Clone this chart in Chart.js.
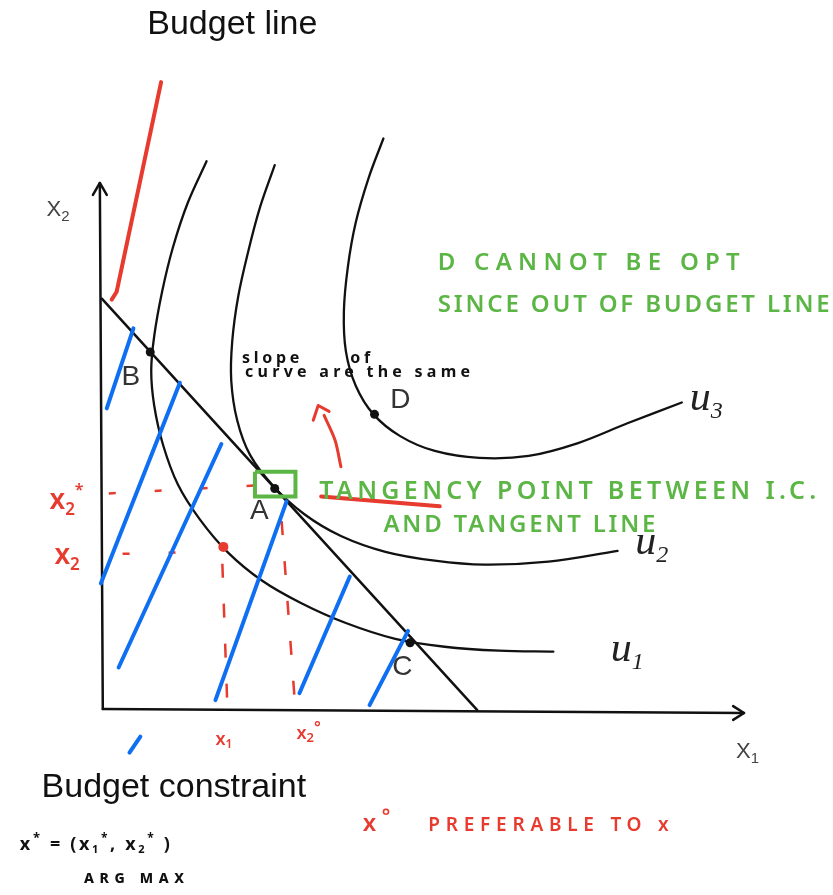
<!DOCTYPE html>
<html>
<head>
<meta charset="utf-8">
<script src="https://cdn.jsdelivr.net/npm/chart.js@4/dist/chart.umd.min.js"></script>
<style>
  html, body { margin: 0; padding: 0; background: #fff; overflow: hidden; }
  canvas { display: block; }
</style>
</head>
<body>
<canvas id="sketch" width="833" height="895"></canvas>
<script>
// units: origin at the axes corner, 1 unit ~ 10px
const xAxisLine = [[0, 0], [64.9, -0.4]];
const yAxisLine = [[0, 0], [-0.3, 53.2]];
const xArrow = [[63.8, 0.3], [64.9, -0.4], [63.8, -1.1]];
const yArrow = [[-1.0, 52.0], [-0.3, 53.2], [0.4, 52.0]];

const budgetLine = [[-0.1, 41.5], [37.9, -0.1]];
const budgetPointer = [[5.9, 63.4], [1.4, 42.2], [0.9, 41.4]];

const u1 = [[10.5, 55.4], [8.6, 51.2], [7.1, 46.7], [6.0, 42.2], [5.2, 37.7], [4.9, 34.2], [5.2, 30.7],
  [6.1, 26.7], [7.6, 22.7], [9.8, 19.2], [12.6, 15.9], [16.1, 13.0], [20.1, 10.7], [24.6, 8.7],
  [29.6, 7.1], [34.6, 6.3], [40.1, 5.9], [45.6, 5.8]];
const u2 = [[17.4, 55.0], [15.9, 50.7], [14.7, 46.2], [13.7, 41.7], [13.1, 37.2], [13.0, 33.2],
  [13.6, 29.2], [14.9, 25.7], [17.3, 22.5], [20.4, 19.7], [24.1, 17.5], [28.6, 15.9], [33.6, 15.0],
  [38.6, 14.6], [45.1, 14.9], [52.1, 16.0]];
const u3 = [[28.4, 57.7], [26.9, 53.7], [25.6, 49.2], [24.8, 44.7], [24.4, 40.2], [24.6, 36.2],
  [25.6, 32.7], [27.4, 29.8], [30.1, 27.6], [33.6, 26.1], [38.1, 25.4], [43.1, 25.6], [48.1, 26.9],
  [53.1, 28.9], [58.6, 31.0]];

const hatch = [
  [[0.4, 30.4], [3.1, 38.5]],
  [[-0.2, 12.7], [7.8, 33.0]],
  [[1.6, 4.2], [12.0, 26.8]],
  [[11.4, 0.9], [18.6, 21.0]],
  [[19.9, 1.6], [25.0, 13.4]],
  [[27.0, 0.4], [30.9, 7.9]],
  [[2.7, -4.4], [3.8, -2.8]]
];

const guideX2Star = [[0.6, 21.8], [15.3, 22.6]];
const guideX2 = [[2.0, 15.7], [10.6, 15.9]];
const guideX1 = [[12.1, 14.7], [12.6, 0.4]];
const guideX1Star = [[18.1, 19.0], [19.4, 1.2]];

const tangencyBox = [[15.4, 24.0], [19.5, 24.0], [19.5, 21.5], [15.4, 21.5], [15.4, 24.0]];
const slopeArrow = [[24.1, 24.5], [23.5, 27.2], [22.4, 29.7]];
const slopeCaret = [[21.3, 29.2], [21.8, 30.7], [22.9, 30.1]];
const tangencyUnderline = [[22.1, 21.5], [34.1, 20.5]];

const pointNames = ['A', 'B', 'C', 'D'];
const namedPoints = [[17.4, 22.3], [4.8, 36.1], [31.1, 6.7], [27.5, 29.8]];
const bundleX = [[12.2, 16.4]];

const BLACK = '#111', RED = '#e63b2e', BLUE = '#0f6ff2', GREEN = '#5bb645';

const toXY = arr => arr.map(([x, y]) => ({x, y}));
const stroke = (pts, color, width, extra) => Object.assign({
  data: toXY(pts), showLine: true, borderColor: color, borderWidth: width,
  pointRadius: 0, tension: 0, fill: false, borderCapStyle: 'round', borderJoinStyle: 'round'
}, extra || {});

let datasets = [
  stroke(xAxisLine, BLACK, 2.5),
  stroke(yAxisLine, BLACK, 2.5),
  stroke(xArrow, BLACK, 2.5),
  stroke(yArrow, BLACK, 2.5),
  stroke(u1, BLACK, 2.3, {tension: 0.35}),
  stroke(u2, BLACK, 2.3, {tension: 0.35}),
  stroke(u3, BLACK, 2.3, {tension: 0.35}),
  stroke(budgetLine, BLACK, 2.5),
  stroke(guideX2Star, RED, 2.5, {borderDash: [7, 39], borderCapStyle: 'butt'}),
  stroke(guideX2, RED, 2.5, {borderDash: [7, 39], borderCapStyle: 'butt'}),
  stroke(guideX1, RED, 2.5, {borderDash: [14, 26], borderCapStyle: 'butt'}),
  stroke(guideX1Star, RED, 2.5, {borderDash: [14, 26], borderCapStyle: 'butt'}),
  {data: toXY(namedPoints), showLine: false, pointRadius: 4.5, backgroundColor: BLACK, borderWidth: 0},
  {data: toXY(bundleX), showLine: false, pointRadius: 5, backgroundColor: RED, borderWidth: 0},
  ...hatch.map(h => stroke(h, BLUE, 4)),
  stroke(budgetPointer, RED, 4),
  stroke(tangencyBox, GREEN, 4, {borderJoinStyle: 'miter', borderCapStyle: 'butt'}),
  stroke(slopeArrow, RED, 3, {tension: 0.3}),
  stroke(slopeCaret, RED, 3),
  stroke(tangencyUnderline, RED, 4)
];
datasets.forEach((d, i) => { d.order = datasets.length - i; });

// text: runs of [text, size, dy]
const SANS = '"Liberation Sans", Arial, sans-serif';
const HAND = '"Noto Sans", sans-serif';
const SERIF = '"Liberation Serif", serif';
const notes = [
  {at: [4.5, 68.3], runs: [['Budget line', 34, 0]], family: SANS, color: BLACK},
  {at: [-6.2, -8.9], runs: [['Budget constraint', 34, 0]], family: SANS, color: BLACK},
  {at: [-5.7, 49.9], runs: [['X', 22, 0], ['2', 15, 5]], family: SANS, color: '#444'},
  {at: [64.1, -5.0], runs: [['X', 22, 0], ['1', 15, 5]], family: SANS, color: '#444'},
  {at: [14.9, 19.2], runs: [[pointNames[0], 28, 0]], family: SANS, color: '#333'},
  {at: [1.9, 32.8], runs: [[pointNames[1], 28, 0]], family: SANS, color: '#333'},
  {at: [29.3, 3.4], runs: [[pointNames[2], 28, 0]], family: SANS, color: '#333'},
  {at: [29.1, 30.4], runs: [[pointNames[3], 28, 0]], family: SANS, color: '#333'},
  {at: [59.4, 30.2], runs: [['u', 42, 0], ['3', 24, 8]], family: SERIF, style: 'italic', color: '#222'},
  {at: [53.9, 15.7], runs: [['u', 42, 0], ['2', 24, 8]], family: SERIF, style: 'italic', color: '#222'},
  {at: [51.4, 4.9], runs: [['u', 42, 0], ['1', 24, 8]], family: SERIF, style: 'italic', color: '#222'},
  {at: [33.9, 44.4], runs: [['D CANNOT BE OPT', 24, 0]], width: 302, family: HAND, weight: 600, color: GREEN},
  {at: [33.9, 40.2], runs: [['SINCE OUT OF BUDGET LINE', 24, 0]], width: 392, family: HAND, weight: 600, color: GREEN},
  {at: [21.9, 21.2], runs: [['TANGENCY POINT BETWEEN I.C.', 25, 0]], width: 497, family: HAND, weight: 600, color: GREEN},
  {at: [28.4, 17.9], runs: [['AND TANGENT LINE', 24, 0]], width: 272, family: HAND, weight: 600, color: GREEN},
  {at: [14.1, 35.0], runs: [['slope      of', 16, 0]], width: 128, family: HAND, weight: 700, color: BLACK},
  {at: [14.4, 33.6], runs: [['curve are the same', 16, 0]], width: 225, family: HAND, weight: 700, color: BLACK},
  {at: [-5.4, 20.2], runs: [['x', 28, 0], ['2', 17, 6], ['*', 16, -14]], family: HAND, weight: 600, color: RED},
  {at: [-4.9, 14.7], runs: [['x', 28, 0], ['2', 17, 6]], family: HAND, weight: 600, color: RED},
  {at: [11.4, -3.6], runs: [['x', 18, 0], ['1', 12, 3]], family: HAND, weight: 600, color: RED},
  {at: [19.6, -3.0], runs: [['x', 18, 0], ['2', 13, 3], ['°', 16, -6]], family: HAND, weight: 600, color: RED},
  {at: [26.3, -12.3], runs: [['x', 24, 0], ['°', 20, -8], ['   PREFERABLE TO x', 19, 0]], width: 306, family: HAND, weight: 600, color: RED},
  {at: [-8.4, -14.3], runs: [['x', 18, 0], ['*', 13, -8], [' = (x', 18, 0], ['1', 11, 3], ['*', 12, -8], [', x', 18, 0], ['2', 11, 3], ['*', 12, -8], [' )', 18, 0]], width: 150, family: HAND, weight: 700, color: BLACK},
  {at: [-1.9, -17.6], runs: [['ARG MAX', 14, 0]], width: 100, family: HAND, weight: 800, color: BLACK}
];

const notesPlugin = {
  id: 'notes',
  afterDatasetsDraw(chart) {
    const ctx = chart.ctx, sx = chart.scales.x, sy = chart.scales.y;
    notes.forEach(n => {
      ctx.save();
      ctx.fillStyle = n.color;
      ctx.textBaseline = 'alphabetic';
      ctx.textAlign = 'left';
      const fontOf = r => `${n.style || 'normal'} ${n.weight || 400} ${r[1]}px ${n.family}`;
      let spacing = 0;
      if (n.width) {
        let w = 0, count = 0;
        n.runs.forEach(r => { ctx.font = fontOf(r); w += ctx.measureText(r[0]).width; count += r[0].length; });
        spacing = (n.width - w) / Math.max(count - 1, 1);
      }
      ctx.letterSpacing = spacing + 'px';
      let x = sx.getPixelForValue(n.at[0]);
      const y = sy.getPixelForValue(n.at[1]);
      n.runs.forEach(r => {
        ctx.font = fontOf(r);
        ctx.fillText(r[0], x, y + r[2]);
        x += ctx.measureText(r[0]).width;
      });
      ctx.restore();
    });
  }
};

new Chart(document.getElementById('sketch'), {
  type: 'scatter',
  data: {datasets},
  options: {
    responsive: false,
    animation: false,
    layout: {padding: 0},
    plugins: {legend: {display: false}, tooltip: {enabled: false}},
    scales: {
      x: {type: 'linear', display: false, min: -9.9, max: 73.4},
      y: {type: 'linear', display: false, min: -18.3, max: 71.2}
    }
  },
  plugins: [notesPlugin]
});
</script>
</body>
</html>
